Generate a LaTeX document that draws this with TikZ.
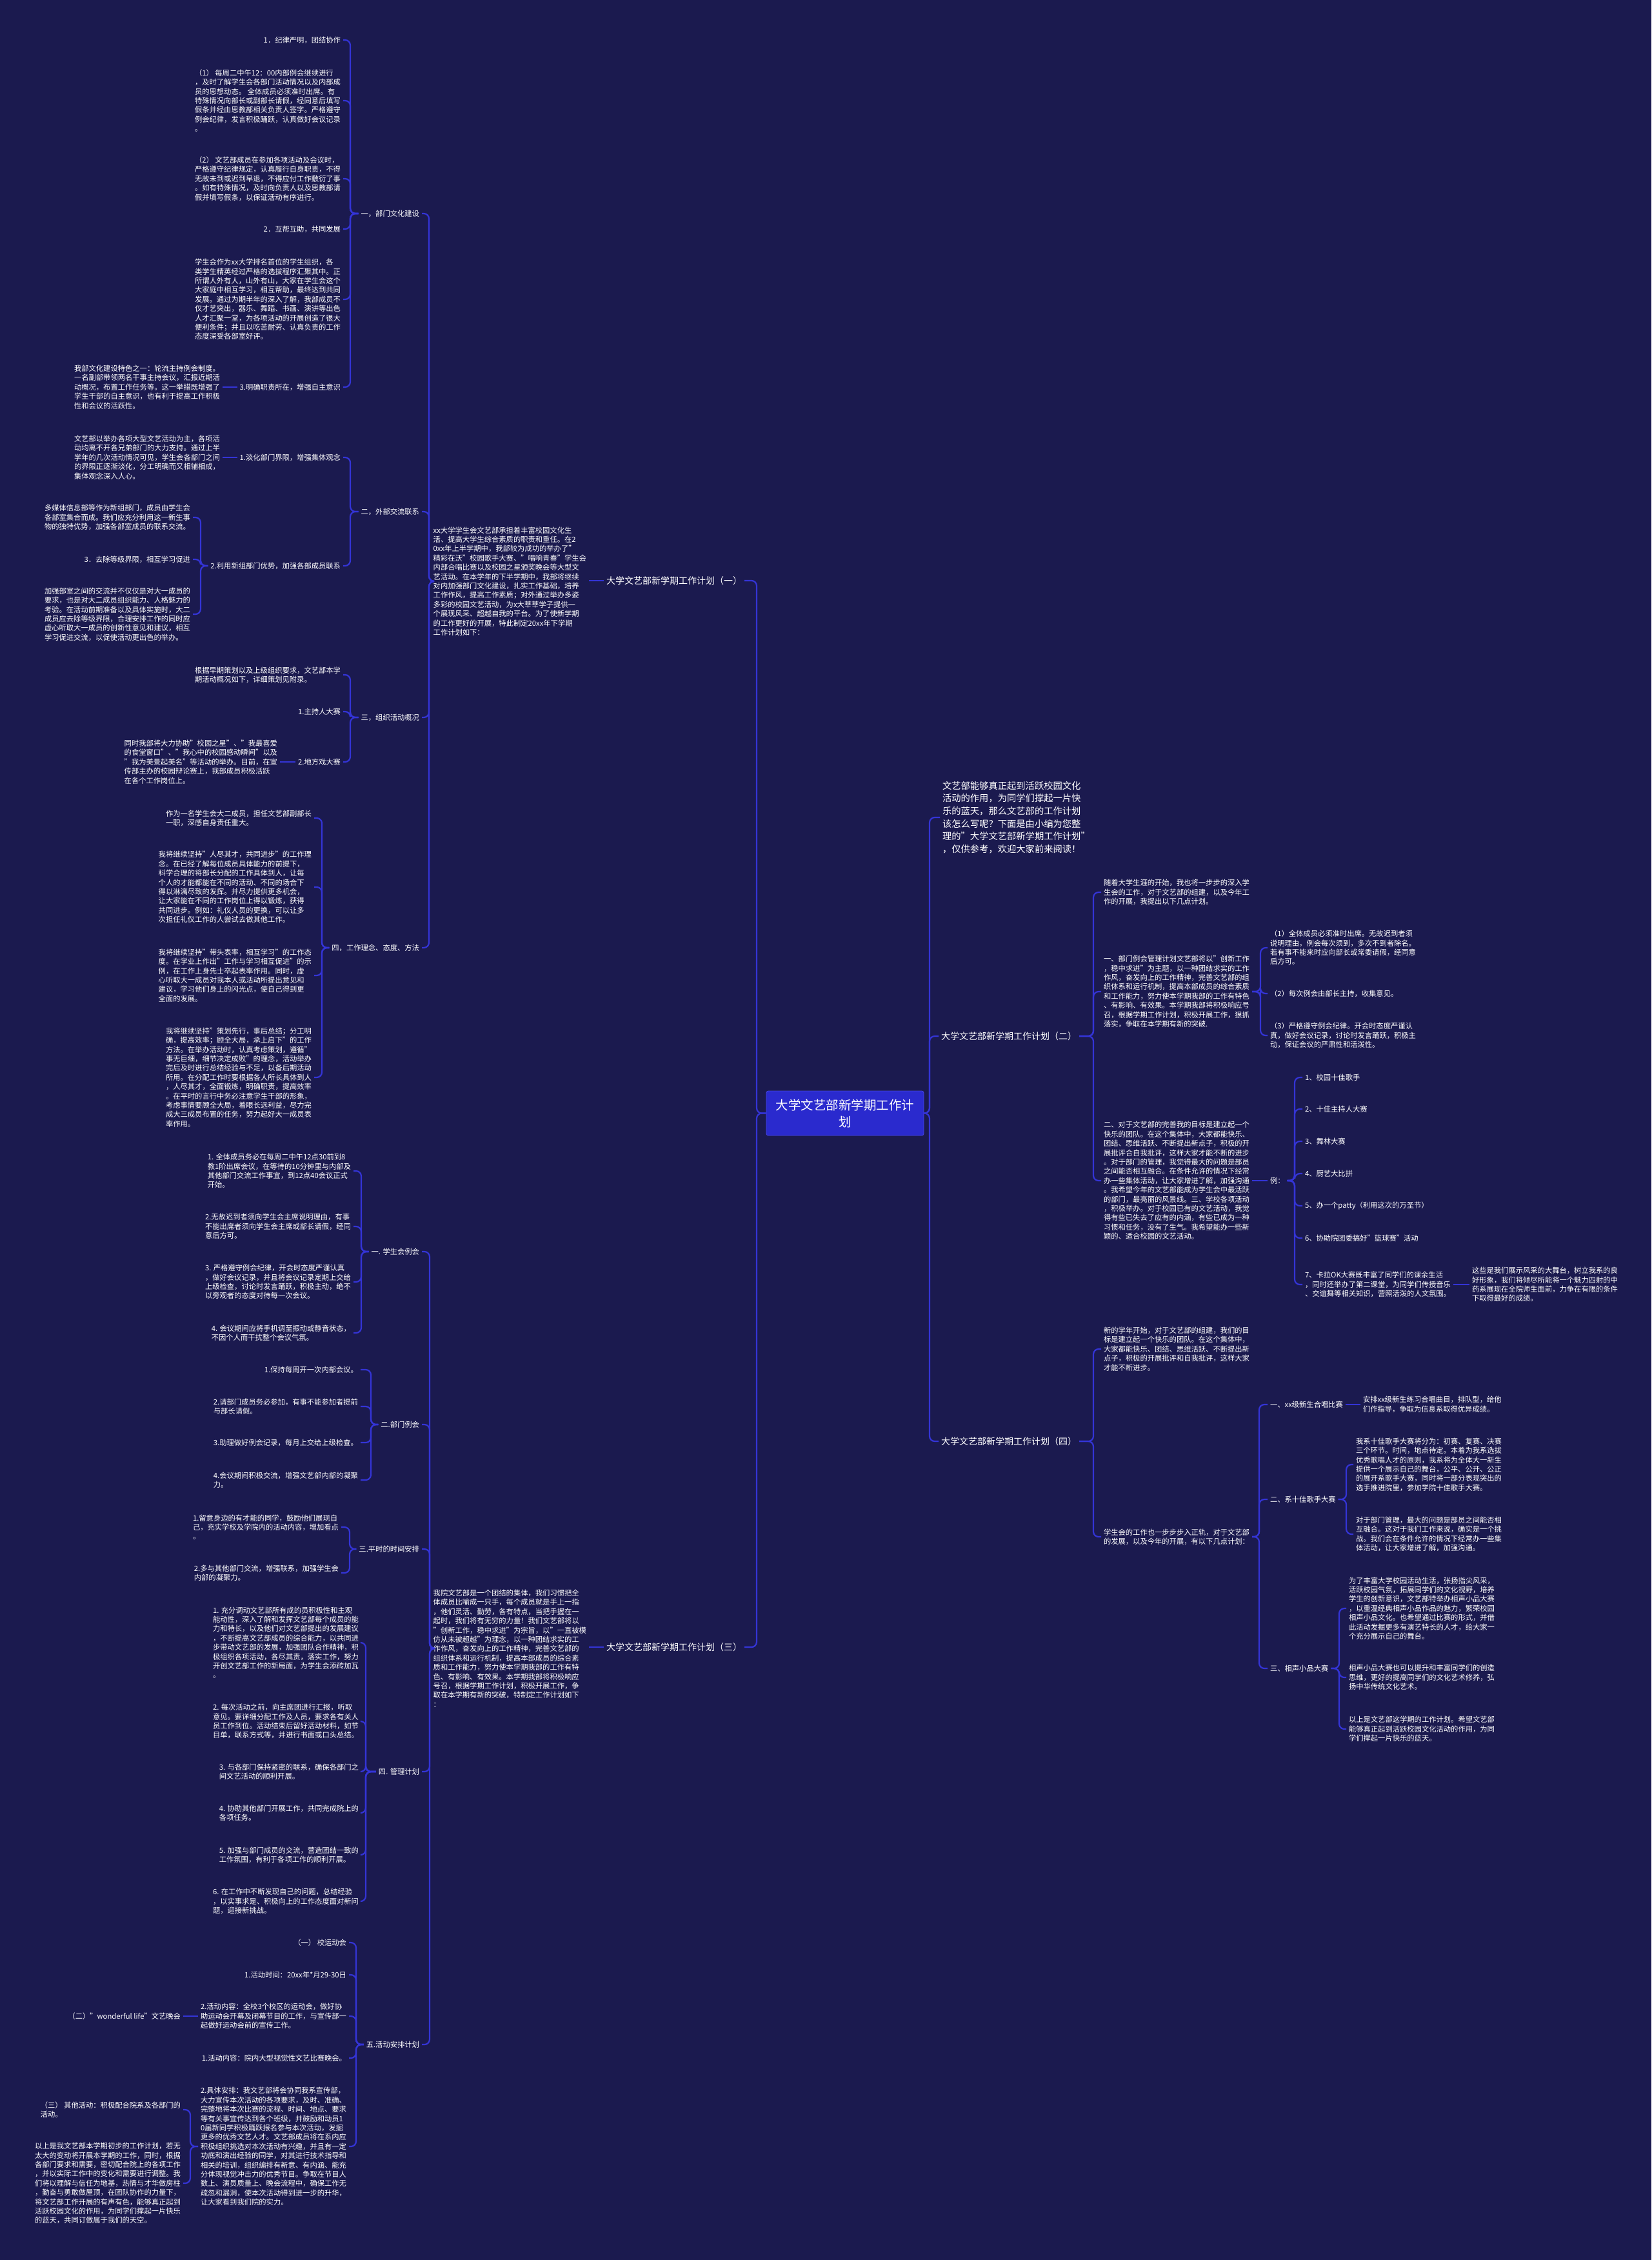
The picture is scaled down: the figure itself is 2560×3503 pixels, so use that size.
\documentclass[tikz,border=0pt]{standalone}
\usepackage{fontspec}
\setmainfont{Noto Sans CJK SC}
\definecolor{bg}{RGB}{27,26,79}
\definecolor{linec}{RGB}{52,52,214}
\definecolor{cbox}{RGB}{42,42,206}
\definecolor{cboxd}{RGB}{72,72,230}
\newcommand\LK[3]{\draw[ln] (#1.west) -- (#1.west -| #2) |- (#3.east);}
\newcommand\RK[3]{\draw[ln] (#1.east) -- (#1.east -| #2) |- (#3.west);}
\newcommand\SL[2]{\draw[ln] (#1.west) -- (#1.west -| #2.east);}
\newcommand\SR[2]{\draw[ln] (#1.east) -- (#1.east -| #2.west);}
\begin{document}
\begin{tikzpicture}[x=1pt,y=-1pt,
  tx/.style={text=white, inner xsep=4pt, inner ysep=1pt, outer sep=0pt, align=left, font=\fontsize{11.3}{14.4}\selectfont},
  txl/.style={tx, anchor=east},
  txr/.style={tx, anchor=west},
  brn/.style={text=white, inner xsep=4pt, inner ysep=1pt, outer sep=0pt, font=\fontsize{14}{17}\selectfont},
  ln/.style={draw=linec, line width=2.2pt, rounded corners=8pt}]
\fill[bg] (0,0) rectangle (2560,3503);
\useasboundingbox (0,0) rectangle (2560,3503);

% spine coordinates
\coordinate (sC) at (1173,0);
\coordinate (sCR) at (1441,0);
\coordinate (sI1) at (665,0);
\coordinate (sA) at (543,0);
\coordinate (sB2) at (311,0);
\coordinate (sD) at (499,0);
\coordinate (sI3) at (666,0);
\coordinate (sM1) at (560,0);
\coordinate (sM2) at (575,0);
\coordinate (sM3) at (542,0);
\coordinate (sM4) at (567,0);
\coordinate (sM5) at (552,0);
\coordinate (sE5) at (295,0);
\coordinate (sR) at (1695,0);
\coordinate (sR2) at (1954,0);
\coordinate (sEx) at (2007,0);
\coordinate (sS2) at (1952,0);
\coordinate (sT2) at (2087,0);
\coordinate (sT3) at (2076,0);

% center
\node[fill=cbox, draw=cboxd, line width=0.8pt, text=white, minimum width=244pt, minimum height=69pt, align=center, inner sep=0pt, rounded corners=3pt, font=\fontsize{19.5}{26}\selectfont] (c) at (1310,1725.5) {大学文艺部新学期工作计\\划};

% main branches
\node[brn, anchor=east] (b1) at (1154,900) {大学文艺部新学期工作计划（一）};
\node[brn, anchor=east] (b3) at (1154,2553) {大学文艺部新学期工作计划（三）};
\node[tx, anchor=west, font=\fontsize{14.3}{19.6}\selectfont] (ri) at (1457,1267) {文艺部能够真正起到活跃校园文化\\
活动的作用，为同学们撑起一片快\\
乐的蓝天，那么文艺部的工作计划\\
该怎么写呢？下面是由小编为您整\\
理的"大学文艺部新学期工作计划"\\
，仅供参考，欢迎大家前来阅读！};
\node[brn, anchor=west] (b2) at (1455,1606) {大学文艺部新学期工作计划（二）};
\node[brn, anchor=west] (b4) at (1455,2234) {大学文艺部新学期工作计划（四）};

% ===== branch (一) =====
\node[txl] (i1) at (913,901) {xx大学学生会文艺部承担着丰富校园文化生\\
活、提高大学生综合素质的职责和重任。在2\\
0xx年上半学期中，我部较为成功的举办了"\\
精彩在沃"校园歌手大赛、"唱响青春"学生会\\
内部合唱比赛以及校园之星颁奖晚会等大型文\\
艺活动。在本学年的下半学期中，我部将继续\\
对内加强部门文化建设，扎实工作基础，培养\\
工作作风，提高工作素质；对外通过举办多姿\\
多彩的校园文艺活动，为x大莘莘学子提供一\\
个展现风采、超越自我的平台。为了使新学期\\
的工作更好的开展，特此制定20xx年下学期\\
工作计划如下：};

\node[txl] (L1) at (654,331) {一，部门文化建设};
\node[txl] (L2) at (654,793) {二，外部交流联系};
\node[txl] (L3) at (654,1112) {三，组织活动概况};
\node[txl] (L4) at (654,1469) {四，工作理念、态度、方法};

\node[txl] (a1) at (532,62) {1．纪律严明，团结协作};
\node[txl] (a2) at (532,156) {（1） 每周二中午12：00内部例会继续进行\\
，及时了解学生会各部门活动情况以及内部成\\
员的思想动态。 全体成员必须准时出席。有\\
特殊情况向部长或副部长请假，经同意后填写\\
假条并经由思教部相关负责人签字。严格遵守\\
例会纪律，发言积极踊跃，认真做好会议记录\\
。};
\node[txl] (a3) at (532,277) {（2） 文艺部成员在参加各项活动及会议时，\\
严格遵守纪律规定，认真履行自身职责，不得\\
无故未到或迟到早退，不得应付工作敷衍了事\\
。如有特殊情况，及时向负责人以及思教部请\\
假并填写假条，以保证活动有序进行。};
\node[txl] (a4) at (532,355) {2．互帮互助，共同发展};
\node[txl] (a5) at (532,464) {学生会作为xx大学排名首位的学生组织，各\\
类学生精英经过严格的选拔程序汇聚其中。正\\
所谓人外有人，山外有山，大家在学生会这个\\
大家庭中相互学习，相互帮助，最终达到共同\\
发展。通过为期半年的深入了解，我部成员不\\
仅才艺突出，器乐、舞蹈、书画、演讲等出色\\
人才汇聚一堂，为各项活动的开展创造了很大\\
便利条件；并且以吃苦耐劳、认真负责的工作\\
态度深受各部室好评。};
\node[txl] (a6) at (532,600) {3.明确职责所在，增强自主意识};
\node[txl] (a6c) at (345,600) {我部文化建设特色之一：轮流主持例会制度。\\
一名副部带领两名干事主持会议，汇报近期活\\
动概况，布置工作任务等。这一举措既增强了\\
学生干部的自主意识，也有利于提高工作积极\\
性和会议的活跃性。};

\node[txl] (bA) at (532,709) {1.淡化部门界限，增强集体观念};
\node[txl] (bAc) at (345,709) {文艺部以举办各项大型文艺活动为主，各项活\\
动均离不开各兄弟部门的大力支持。通过上半\\
学年的几次活动情况可见，学生会各部门之间\\
的界限正逐渐淡化，分工明确而又相辅相成，\\
集体观念深入人心。};
\node[txl] (bB) at (532,877) {2.利用新组部门优势，加强各部成员联系};
\node[txl] (bB1) at (299,802) {多媒体信息部等作为新组部门，成员由学生会\\
各部室集合而成。我们应充分利用这一新生事\\
物的独特优势，加强各部室成员的联系交流。};
\node[txl] (bB2) at (299,867) {3．去除等级界限，相互学习促进};
\node[txl] (bB3) at (299,952) {加强部室之间的交流并不仅仅是对大一成员的\\
要求，也是对大二成员组织能力、人格魅力的\\
考验。在活动前期准备以及具体实施时，大二\\
成员应去除等级界限，合理安排工作的同时应\\
虚心听取大一成员的创新性意见和建议，相互\\
学习促进交流，以促使活动更出色的举办。};

\node[txl] (cA) at (532,1046) {根据早期策划以及上级组织要求，文艺部本学\\
期活动概况如下，详细策划见附录。};
\node[txl] (cB) at (532,1103) {1.主持人大赛};
\node[txl] (cC) at (532,1181) {2.地方戏大赛};
\node[txl] (cCc) at (434,1181) {同时我部将大力协助"校园之星"、"我最喜爱\\
的食堂窗口"、"我心中的校园感动瞬间"以及\\
"我为美景起美名"等活动的举办。目前，在宣\\
传部主办的校园辩论赛上，我部成员积极活跃\\
在各个工作岗位上。};

\node[txl] (d1) at (487,1268) {作为一名学生会大二成员，担任文艺部副部长\\
一职，深感自身责任重大。};
\node[txl] (d2) at (487,1375) {我将继续坚持"人尽其才，共同进步"的工作理\\
念。在已经了解每位成员具体能力的前提下，\\
科学合理的将部长分配的工作具体到人，让每\\
个人的才能都能在不同的活动、不同的场合下\\
得以淋漓尽致的发挥。并尽力提供更多机会，\\
让大家能在不同的工作岗位上得以锻炼，获得\\
共同进步。例如：礼仪人员的更换，可以让多\\
次担任礼仪工作的人尝试去做其他工作。};
\node[txl] (d3) at (487,1512) {我将继续坚持"带头表率，相互学习"的工作态\\
度。在学业上作出"工作与学习相互促进"的示\\
例，在工作上身先士卒起表率作用。同时，虚\\
心听取大一成员对我本人或活动所提出意见和\\
建议，学习他们身上的闪光点，使自己得到更\\
全面的发展。};
\node[txl] (d4) at (487,1670) {我将继续坚持"策划先行，事后总结；分工明\\
确，提高效率；顾全大局，承上启下"的工作\\
方法。在举办活动时，认真考虑策划，遵循"\\
事无巨细，细节决定成败"的理念，活动举办\\
完后及时进行总结经验与不足，以备后期活动\\
所用。在分配工作时要根据各人所长具体到人\\
，人尽其才，全面锻炼，明确职责，提高效率\\
。在平时的言行中务必注意学生干部的形象，\\
考虑事情要顾全大局，着眼长远利益，尽力完\\
成大三成员布置的任务，努力起好大一成员表\\
率作用。};

% ===== branch (三) =====
\node[txl] (i3) at (913,2555) {我院文艺部是一个团结的集体，我们习惯把全\\
体成员比喻成一只手，每个成员就是手上一指\\
，他们灵活、勤劳，各有特点，当把手握在一\\
起时，我们将有无穷的力量！我们文艺部将以\\
"创新工作，稳中求进"为宗旨，以"一直被模\\
仿从未被超越"为理念，以一种团结求实的工\\
作作风，奋发向上的工作精神，完善文艺部的\\
组织体系和运行机制，提高本部成员的综合素\\
质和工作能力，努力使本学期我部的工作有特\\
色、有影响、有效果。本学期我部将积极响应\\
号召，根据学期工作计划，积极开展工作，争\\
取在本学期有新的突破，特制定工作计划如下\\
：};

\node[txl] (M1) at (654,1940) {一. 学生会例会};
\node[txl] (M2) at (654,2208) {二.部门例会};
\node[txl] (M3) at (654,2401) {三.平时的时间安排};
\node[txl] (M4) at (654,2746) {四. 管理计划};
\node[txl] (M5) at (654,3169) {五.活动安排计划};

\node[txl] (m11) at (548,1815) {1. 全体成员务必在每周二中午12点30前到8\\
教1阶出席会议，在等待的10分钟里与内部及\\
其他部门交流工作事宜，到12点40会议正式\\
开始。};
\node[txl] (m12) at (548,1901) {2.无故迟到者须向学生会主席说明理由，有事\\
不能出席者须向学生会主席或部长请假，经同\\
意后方可。};
\node[txl] (m13) at (548,1987) {3. 严格遵守例会纪律，开会时态度严谨认真\\
，做好会议记录，并且将会议记录定期上交给\\
上级检查，讨论时发言踊跃，积极主动，绝不\\
以旁观者的态度对待每一次会议。};
\node[txl] (m14) at (548,2066) {4. 会议期间应将手机调至振动或静音状态，\\
不因个人而干扰整个会议气氛。};

\node[txl] (m21) at (559,2123) {1.保持每周开一次内部会议。};
\node[txl] (m22) at (559,2180) {2.请部门成员务必参加，有事不能参加者提前\\
与部长请假。};
\node[txl] (m23) at (559,2236) {3.助理做好例会记录，每月上交给上级检查。};
\node[txl] (m24) at (559,2294) {4.会议期间积极交流，增强文艺部内部的凝聚\\
力。};

\node[txl] (m31) at (529,2367) {1.留意身边的有才能的同学，鼓励他们展现自\\
己，充实学校及学院内的活动内容，增加看点\\
。};
\node[txl] (m32) at (529,2438) {2.多与其他部门交流，增强联系，加强学生会\\
内部的凝聚力。};

\node[txl] (m41) at (560,2546) {1. 充分调动文艺部所有成的员积极性和主观\\
能动性，深入了解和发挥文艺部每个成员的能\\
力和特长，以及他们对文艺部提出的发展建议\\
，不断提高文艺部成员的综合能力，以共同进\\
步带动文艺部的发展，加强团队合作精神，积\\
极组织各项活动，各尽其责，落实工作，努力\\
开创文艺部工作的新局面，为学生会添砖加瓦\\
。};
\node[txl] (m42) at (560,2668) {2. 每次活动之前，向主席团进行汇报，听取\\
意见。要详细分配工作及人员，要求各有关人\\
员工作到位。活动结束后留好活动材料，如节\\
目单，联系方式等，并进行书面或口头总结。};
\node[txl] (m43) at (560,2746) {3. 与各部门保持紧密的联系，确保各部门之\\
间文艺活动的顺利开展。};
\node[txl] (m44) at (560,2810) {4. 协助其他部门开展工作，共同完成院上的\\
各项任务。};
\node[txl] (m45) at (560,2875) {5. 加强与部门成员的交流，营造团结一致的\\
工作氛围，有利于各项工作的顺利开展。};
\node[txl] (m46) at (560,2947) {6. 在工作中不断发现自己的问题，总结经验\\
，以实事求是、积极向上的工作态度面对新问\\
题，迎接新挑战。};

\node[txl] (m51) at (541,3011) {（一） 校运动会};
\node[txl] (m52) at (541,3061) {1.活动时间：20xx年*月29-30日};
\node[txl] (m53) at (541,3125) {2.活动内容：全校3个校区的运动会，做好协\\
助运动会开幕及闭幕节目的工作，与宣传部一\\
起做好运动会前的宣传工作。};
\node[txl] (m53c) at (284,3125) {（二）"wonderful life"文艺晚会};
\node[txl] (m54) at (541,3190) {1.活动内容：院内大型视觉性文艺比赛晚会。};
\node[txl] (m55) at (541,3327) {2.具体安排：我文艺部将会协同我系宣传部，\\
大力宣传本次活动的各项要求，及时、准确、\\
完整地将本次比赛的流程、时间、地点、要求\\
等有关事宜传达到各个班级，并鼓励和动员1\\
0届新同学积极踊跃报名参与本次活动，发掘\\
更多的优秀文艺人才。文艺部成员将在系内应\\
积极组织挑选对本次活动有兴趣，并且有一定\\
功底和演出经验的同学，对其进行技术指导和\\
相关的培训，组织编排有新意、有内涵、能充\\
分体现视觉冲击力的优秀节目。争取在节目人\\
数上、演员质量上、晚会流程中，确保工作无\\
疏忽和漏洞，使本次活动得到进一步的升华，\\
让大家看到我们院的实力。};
\node[txl] (m551) at (284,3270) {（三） 其他活动：积极配合院系及各部门的\\
活动。};
\node[txl] (m552) at (284,3384) {以上是我文艺部本学期初步的工作计划，若无\\
太大的变动将开展本学期的工作，同时，根据\\
各部门要求和需要，密切配合院上的各项工作\\
，并以实际工作中的变化和需要进行调整。我\\
们将以理解与信任为地基，热情与才华做房柱\\
，勤奋与勇敢做屋顶，在团队协作的力量下，\\
将文艺部工作开展的有声有色，能够真正起到\\
活跃校园文化的作用，为同学们撑起一片快乐\\
的蓝天，共同订做属于我们的天空。};

% ===== branch (二) =====
\node[txr] (r1) at (1707,1383) {随着大学生涯的开始，我也将一步步的深入学\\
生会的工作，对于文艺部的组建，以及今年工\\
作的开展，我提出以下几点计划。};
\node[txr] (r2) at (1707,1537) {一、部门例会管理计划文艺部将以"创新工作\\
，稳中求进"为主题，以一种团结求实的工作\\
作风，奋发向上的工作精神，完善文艺部的组\\
织体系和运行机制，提高本部成员的综合素质\\
和工作能力，努力使本学期我部的工作有特色\\
、有影响、有效果。本学期我部将积极响应号\\
召，根据学期工作计划，积极开展工作，狠抓\\
落实，争取在本学期有新的突破.};
\node[txr] (r21) at (1965,1469) {（1）全体成员必须准时出席。无故迟到者须\\
说明理由，例会每次须到，多次不到者除名。\\
若有事不能来时应向部长或常委请假，经同意\\
后方可。};
\node[txr] (r22) at (1965,1540) {（2）每次例会由部长主持，收集意见。};
\node[txr] (r23) at (1965,1605) {（3）严格遵守例会纪律。开会时态度严谨认\\
真，做好会议记录，讨论时发言踊跃，积极主\\
动，保证会议的严肃性和活泼性。};
\node[txr] (r3) at (1707,1830) {二、对于文艺部的完善我的目标是建立起一个\\
快乐的团队。在这个集体中，大家都能快乐、\\
团结、思维活跃、不断提出新点子，积极的开\\
展批评合自我批评，这样大家才能不断的进步\\
。对于部门的管理，我觉得最大的问题是部员\\
之间能否相互融合。在条件允许的情况下经常\\
办一些集体活动，让大家增进了解，加强沟通\\
。我希望今年的文艺部能成为学生会中最活跃\\
的部门，最亮丽的风景线。三、学校各项活动\\
，积极举办。对于校园已有的文艺活动，我觉\\
得有些已失去了应有的内涵，有些已成为一种\\
习惯和任务，没有了生气。我希望能办一些新\\
颖的、适合校园的文艺活动。};
\node[txr] (ex) at (1965,1830) {例：};
\node[txr] (e1) at (2019,1670) {1、校园十佳歌手};
\node[txr] (e2) at (2019,1719) {2、十佳主持人大赛};
\node[txr] (e3) at (2019,1769) {3、舞林大赛};
\node[txr] (e4) at (2019,1819) {4、厨艺大比拼};
\node[txr] (e5) at (2019,1869) {5、办一个patty（利用这次的万圣节）};
\node[txr] (e6) at (2019,1919) {6、协助院团委搞好"篮球赛"活动};
\node[txr] (e7) at (2019,1991) {7、卡拉OK大赛既丰富了同学们的课余生活\\
，同时还举办了第二课堂，为同学们传授音乐\\
、交谊舞等相关知识，营照活泼的人文氛围。};
\node[txr] (e7c) at (2278,1991) {这些是我们展示风采的大舞台，树立我系的良\\
好形象，我们将倾尽所能将一个魅力四射的中\\
药系展现在全院师生面前，力争在有限的条件\\
下取得最好的成绩。};

% ===== branch (四) =====
\node[txr] (s1) at (1707,2091) {新的学年开始，对于文艺部的组建，我们的目\\
标是建立起一个快乐的团队。在这个集体中，\\
大家都能快乐、团结、思维活跃、不断提出新\\
点子，积极的开展批评和自我批评，这样大家\\
才能不断进步。};
\node[txr] (s2) at (1707,2382) {学生会的工作也一步步步入正轨，对于文艺部\\
的发展，以及今年的开展，有以下几点计划：};
\node[txr] (t1) at (1965,2177) {一、xx级新生合唱比赛};
\node[txr] (t1c) at (2109,2177) {安排xx级新生练习合唱曲目，排队型，给他\\
们作指导，争取为信息系取得优异成绩。};
\node[txr] (t2) at (1965,2324) {二、系十佳歌手大赛};
\node[txr] (t21) at (2098,2270) {我系十佳歌手大赛将分为：初赛、复赛、决赛\\
三个环节。时间，地点待定。本着为我系选拔\\
优秀歌唱人才的原则，我系将为全体大一新生\\
提供一个展示自己的舞台，公平、公开、公正\\
的展开系歌手大赛，同时将一部分表现突出的\\
选手推进院里，参加学院十佳歌手大赛。};
\node[txr] (t22) at (2098,2378) {对于部门管理，最大的问题是部员之间能否相\\
互融合。这对于我们工作来说，确实是一个挑\\
战。我们会在条件允许的情况下经常办一些集\\
体活动，让大家增进了解，加强沟通。};
\node[txr] (t3) at (1965,2586) {三、相声小品大赛};
\node[txr] (t31) at (2087,2493) {为了丰富大学校园活动生活，张扬指尖风采，\\
活跃校园气氛，拓展同学们的文化视野，培养\\
学生的创新意识，文艺部特举办相声小品大赛\\
，以重温经典相声小品作品的魅力，繁荣校园\\
相声小品文化。也希望通过比赛的形式，并借\\
此活动发掘更多有演艺特长的人才，给大家一\\
个充分展示自己的舞台。};
\node[txr] (t32) at (2087,2600) {相声小品大赛也可以提升和丰富同学们的创造\\
思维，更好的提高同学们的文化艺术修养，弘\\
扬中华传统文化艺术。};
\node[txr] (t33) at (2087,2680) {以上是文艺部这学期的工作计划。希望文艺部\\
能够真正起到活跃校园文化活动的作用，为同\\
学们撑起一片快乐的蓝天。};

% ===== connectors =====
\LK{c}{sC}{b1} \LK{c}{sC}{b3}
\RK{c}{sCR}{ri} \RK{c}{sCR}{b2} \RK{c}{sCR}{b4}
\SL{b1}{i1} \SL{b3}{i3}
\LK{i1}{sI1}{L1} \LK{i1}{sI1}{L2} \LK{i1}{sI1}{L3} \LK{i1}{sI1}{L4}
\LK{L1}{sA}{a1} \LK{L1}{sA}{a2} \LK{L1}{sA}{a3} \LK{L1}{sA}{a4} \LK{L1}{sA}{a5} \LK{L1}{sA}{a6}
\SL{a6}{a6c}
\LK{L2}{sA}{bA} \LK{L2}{sA}{bB}
\SL{bA}{bAc}
\LK{bB}{sB2}{bB1} \LK{bB}{sB2}{bB2} \LK{bB}{sB2}{bB3}
\LK{L3}{sA}{cA} \LK{L3}{sA}{cB} \LK{L3}{sA}{cC}
\SL{cC}{cCc}
\LK{L4}{sD}{d1} \LK{L4}{sD}{d2} \LK{L4}{sD}{d3} \LK{L4}{sD}{d4}
\LK{i3}{sI3}{M1} \LK{i3}{sI3}{M2} \LK{i3}{sI3}{M3} \LK{i3}{sI3}{M4} \LK{i3}{sI3}{M5}
\LK{M1}{sM1}{m11} \LK{M1}{sM1}{m12} \LK{M1}{sM1}{m13} \LK{M1}{sM1}{m14}
\LK{M2}{sM2}{m21} \LK{M2}{sM2}{m22} \LK{M2}{sM2}{m23} \LK{M2}{sM2}{m24}
\LK{M3}{sM3}{m31} \LK{M3}{sM3}{m32}
\LK{M4}{sM4}{m41} \LK{M4}{sM4}{m42} \LK{M4}{sM4}{m43} \LK{M4}{sM4}{m44} \LK{M4}{sM4}{m45} \LK{M4}{sM4}{m46}
\LK{M5}{sM5}{m51} \LK{M5}{sM5}{m52} \LK{M5}{sM5}{m53} \LK{M5}{sM5}{m54} \LK{M5}{sM5}{m55}
\SL{m53}{m53c}
\LK{m55}{sE5}{m551} \LK{m55}{sE5}{m552}
\RK{b2}{sR}{r1} \RK{b2}{sR}{r2} \RK{b2}{sR}{r3}
\RK{r2}{sR2}{r21} \RK{r2}{sR2}{r22} \RK{r2}{sR2}{r23}
\SR{r3}{ex}
\RK{ex}{sEx}{e1} \RK{ex}{sEx}{e2} \RK{ex}{sEx}{e3} \RK{ex}{sEx}{e4} \RK{ex}{sEx}{e5} \RK{ex}{sEx}{e6} \RK{ex}{sEx}{e7}
\SR{e7}{e7c}
\RK{b4}{sR}{s1} \RK{b4}{sR}{s2}
\RK{s2}{sS2}{t1} \RK{s2}{sS2}{t2} \RK{s2}{sS2}{t3}
\SR{t1}{t1c}
\RK{t2}{sT2}{t21} \RK{t2}{sT2}{t22}
\RK{t3}{sT3}{t31} \RK{t3}{sT3}{t32} \RK{t3}{sT3}{t33}
\end{tikzpicture}
\end{document}
